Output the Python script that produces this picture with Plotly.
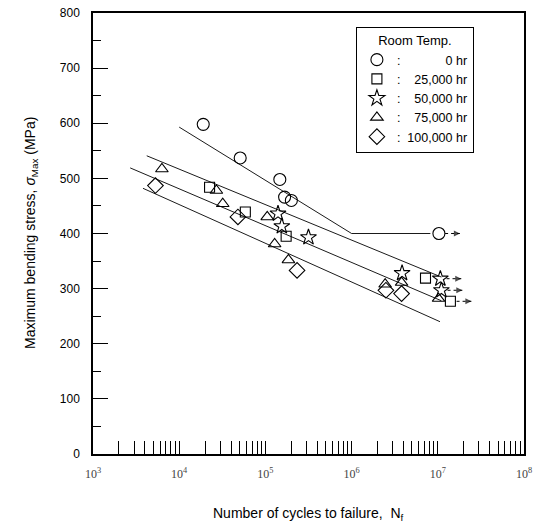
import numpy as np
import plotly.graph_objects as go

# ---- data ----
hr0_N = [1.9e4, 5.1e4, 1.47e5, 1.67e5, 2.0e5, 1.03e7]
hr0_S = [598, 537, 498, 466, 460, 400]
hr0_runout = [False, False, False, False, False, True]

hr25_N = [2.25e4, 5.85e4, 1.74e5, 7.2e6, 1.4e7]
hr25_S = [484, 439, 395, 319, 277]
hr25_runout = [False, False, False, False, True]

hr50_N = [1.4e5, 1.55e5, 3.16e5, 3.85e6, 1.07e7, 1.1e7]
hr50_S = [436, 413, 393, 328, 318, 297]
hr50_runout = [False, False, False, False, True, True]

hr75_N = [6.3e3, 2.7e4, 3.2e4, 1.05e5, 1.28e5, 1.85e5, 2.45e6, 3.8e6, 1.02e7]
hr75_S = [517, 478, 454, 430, 381, 352, 308, 311, 282]
hr75_runout = [False] * 9

hr100_N = [5.3e3, 4.8e4, 2.33e5, 2.5e6, 3.8e6]
hr100_S = [487, 430, 333, 297, 291]
hr100_runout = [False] * 5

# fitted lines
line0_N = [1e4, 1e6, 8.2e6]
line0_S = [593, 400, 400]
lineA_N = [4.2e3, 1.1e7]
lineA_S = [541, 321]
lineB_N = [2.7e3, 1.1e7]
lineB_S = [519, 278]
lineC_N = [3.8e3, 1.06e7]
lineC_S = [482, 240]

series_names = ["0 hr", "25,000 hr", "50,000 hr", "75,000 hr", "100,000 hr"]
legend_title = "Room Temp."
x_title = "Number of cycles to failure,  N<sub>f</sub>"
y_title = "Maximum bending stress, <i>σ</i><sub>Max</sub> (MPa)"

x_decades = [3, 4, 5, 6, 7, 8]
y_ticks = [0, 100, 200, 300, 400, 500, 600, 700, 800]

# ---- figure ----
fig = go.Figure()

for lx, ly in [(line0_N, line0_S), (lineA_N, lineA_S), (lineB_N, lineB_S), (lineC_N, lineC_S)]:
    fig.add_trace(go.Scatter(x=lx, y=ly, mode="lines", line=dict(color="black", width=0.9),
                             showlegend=False, hoverinfo="skip"))

series = [
    (hr0_N, hr0_S, hr0_runout, "circle-open", 12),
    (hr25_N, hr25_S, hr25_runout, "square-open", 10),
    (hr50_N, hr50_S, hr50_runout, "star-open", 12),
    (hr75_N, hr75_S, hr75_runout, "triangle-up-open", 11),
    (hr100_N, hr100_S, hr100_runout, "diamond-open", 12),
]

# runout arrows
for N, S, R, sym, sz in series:
    for n, s, r in zip(N, S, R):
        if r:
            fig.add_trace(go.Scatter(x=[n * 1.18, n * 1.75], y=[s, s], mode="lines+markers",
                                     line=dict(color="black", width=1, dash="dot"),
                                     marker=dict(symbol="arrow-right", size=[0, 6], color="black",
                                                 line=dict(width=0)),
                                     showlegend=False, hoverinfo="skip"))

pad = "\u00a0"
label_pad = {"0 hr": 11, "25,000 hr": 2, "50,000 hr": 2, "75,000 hr": 2, "100,000 hr": 0}
for (N, S, R, sym, sz), name in zip(series, series_names):
    fig.add_trace(go.Scatter(x=N, y=S, mode="markers", name=":" + pad * (2 + label_pad[name]) + name,
                             marker=dict(symbol=sym, size=sz, color="black",
                                         line=dict(color="black", width=1.1))))

major_vals = [10 ** d for d in x_decades]
major_text = ["10<sup>%d</sup>" % d for d in x_decades]
minor_vals = [k * 10 ** d for d in x_decades[:-1] for k in range(2, 10)]

fig.update_xaxes(type="log", range=[3, 8], tickvals=major_vals, ticktext=major_text,
                 ticks="inside", ticklen=13, tickwidth=1.2, tickcolor="black",
                 minor=dict(tickvals=minor_vals, ticks="inside", ticklen=13, tickwidth=1.2,
                            tickcolor="black", showgrid=False),
                 showline=True, linecolor="black", linewidth=1.5, mirror=True,
                 showgrid=False, zeroline=False, ticklabelstandoff=8, automargin=False,
                 tickfont=dict(family="Liberation Serif", size=12, color="#444"))
fig.update_yaxes(range=[0, 800], tickvals=y_ticks, ticks="inside", ticklen=15, tickwidth=1.2,
                 tickcolor="black", showline=True, linecolor="black", linewidth=1.5, mirror=True,
                 showgrid=False, zeroline=False, ticklabelstandoff=9, automargin=False,
                 minor=dict(ticks="inside", ticklen=8, dtick=50, tickcolor="black", tickwidth=1),
                 tickfont=dict(family="Liberation Sans", size=12, color="black"))

fig.add_annotation(text=x_title, xref="paper", yref="paper", x=0.5, y=-0.112,
                   xanchor="center", yanchor="top", showarrow=False,
                   font=dict(family="Liberation Sans", size=14, color="black"))
fig.add_annotation(text=y_title, xref="paper", yref="paper", x=-0.145, y=0.5, textangle=-90,
                   xanchor="center", yanchor="middle", showarrow=False,
                   font=dict(family="Liberation Sans", size=14, color="black"))

fig.update_layout(
    width=541, height=529,
    margin=dict(l=93, r=17, t=13, b=75),
    paper_bgcolor="white", plot_bgcolor="white",
    showlegend=True,
    legend=dict(x=0.61, y=0.968, xanchor="left", yanchor="top",
                bgcolor="white", bordercolor="black", borderwidth=1,
                font=dict(family="Liberation Sans", size=12.5, color="black"),
                title=dict(text=legend_title, side="top center",
                           font=dict(family="Liberation Sans", size=13, color="black")),
                itemsizing="trace", tracegroupgap=0),
)

fig.write_html("out.html")
